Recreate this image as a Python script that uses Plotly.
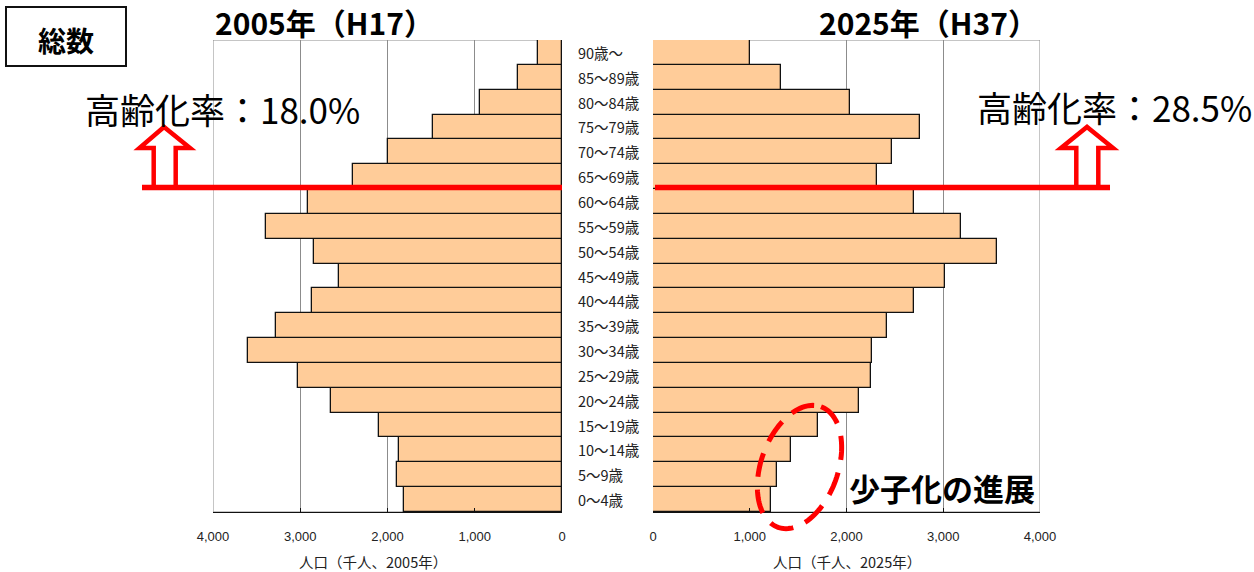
import numpy as np
import plotly.graph_objects as go

# ---------------- data ----------------
age_groups = ["0〜4歳", "5〜9歳", "10〜14歳", "15〜19歳", "20〜24歳", "25〜29歳",
              "30〜34歳", "35〜39歳", "40〜44歳", "45〜49歳", "50〜54歳", "55〜59歳",
              "60〜64歳", "65〜69歳", "70〜74歳", "75〜79歳", "80〜84歳", "85〜89歳", "90歳〜"]
pop_2005 = [1814, 1890, 1871, 2096, 2651, 3025, 3600, 3277, 2865, 2557,
            2846, 3394, 2911, 2400, 1990, 1475, 945, 500, 280]
pop_2025 = [1217, 1283, 1431, 1710, 2127, 2255, 2262, 2417, 2699, 3020,
            3557, 3182, 2699, 2320, 2475, 2755, 2040, 1320, 1000]
tick_vals = [0, 1000, 2000, 3000, 4000]
tick_text = ["0", "1,000", "2,000", "3,000", "4,000"]
title_2005 = "2005年（H17）"
title_2025 = "2025年（H37）"
axis_title_2005 = "人口（千人、2005年）"
axis_title_2025 = "人口（千人、2025年）"
aging_2005 = "高齢化率：18.0%"
aging_2025 = "高齢化率：28.5%"
box_label = "総数"
note_label = "少子化の進展"

# ---------------- layout helpers ----------------
W, H = 1254, 572
def X(px):
    return px / W
def Y(py):
    return 1 - py / H

CJK = "Noto Sans CJK JP"
BAR_FILL = "#FFCC99"
GRID = "#8c8c8c"
RED = "#FF0000"

yidx = list(range(len(age_groups)))

fig = go.Figure()
fig.add_trace(go.Bar(y=yidx, x=pop_2005, orientation="h", width=1,
                     marker=dict(color=BAR_FILL, line=dict(color="#111111", width=1.3)),
                     xaxis="x", yaxis="y", showlegend=False, hoverinfo="x"))
fig.add_trace(go.Bar(y=yidx, x=pop_2025, orientation="h", width=1,
                     marker=dict(color=BAR_FILL, line=dict(color="#111111", width=1.3)),
                     xaxis="x2", yaxis="y2", showlegend=False, hoverinfo="x"))

xcommon = dict(tickvals=tick_vals, ticktext=tick_text, showgrid=True, gridcolor=GRID,
               gridwidth=1, zeroline=False, showline=True, linecolor="#111111", linewidth=1.3,
               ticks="inside", ticklen=4, tickcolor="#111111", ticklabelstandoff=12,
               tickfont=dict(family="Liberation Sans, Arial", size=13, color="#222222"),
               fixedrange=True, automargin=False)
ycommon = dict(range=[-0.5, len(age_groups) - 0.5], showgrid=False, zeroline=False,
               showticklabels=False, showline=False, ticks="", fixedrange=True,
               domain=[Y(512), Y(40)], automargin=False)

fig.update_layout(
    width=W, height=H, margin=dict(l=0, r=0, t=0, b=0, pad=0, autoexpand=False),
    paper_bgcolor="white", plot_bgcolor="white", bargap=0, showlegend=False,
    xaxis=dict(domain=[X(213), X(562)], range=[4000, 0], anchor="y", **xcommon),
    xaxis2=dict(domain=[X(653), X(1040)], range=[0, 4000], anchor="y2", **xcommon),
    yaxis=dict(anchor="x", **ycommon),
    yaxis2=dict(anchor="x2", **ycommon),
)

shapes = []
# gray frames of the two plot areas
shapes.append(dict(type="rect", xref="x", yref="y", x0=4000, x1=0, y0=-0.5, y1=len(age_groups) - 0.5,
                   line=dict(color=GRID, width=1), layer="below"))
shapes.append(dict(type="rect", xref="x2", yref="y2", x0=0, x1=4000, y0=-0.5, y1=len(age_groups) - 0.5,
                   line=dict(color=GRID, width=1), layer="below"))
# box around 総数
shapes.append(dict(type="rect", xref="paper", yref="paper", x0=X(6), x1=X(126), y0=Y(66), y1=Y(7),
                   line=dict(color="#111111", width=2)))
# red horizontal lines
line_y = 187.5
shapes.append(dict(type="line", xref="paper", yref="paper", x0=X(142), x1=X(562), y0=Y(line_y), y1=Y(line_y),
                   line=dict(color=RED, width=5.5)))
shapes.append(dict(type="line", xref="paper", yref="paper", x0=X(655), x1=X(1110), y0=Y(line_y), y1=Y(line_y),
                   line=dict(color=RED, width=5.5)))

def arrow_path(cx, sl, sr, hl, hr, tip_y, head_y, base_y):
    pts = [(sl, base_y), (sl, head_y), (hl, head_y), (cx, tip_y), (hr, head_y), (sr, head_y), (sr, base_y)]
    return "M " + " L ".join(f"{X(a):.5f},{Y(b):.5f}" for a, b in pts)

shapes.append(dict(type="path", xref="paper", yref="paper",
                   path=arrow_path(164, 153.7, 175.7, 139.5, 190, 127, 148, 185),
                   line=dict(color=RED, width=4.5), fillcolor="rgba(0,0,0,0)"))
shapes.append(dict(type="path", xref="paper", yref="paper",
                   path=arrow_path(1087, 1076.3, 1098.3, 1061, 1113, 127, 148, 185),
                   line=dict(color=RED, width=4.5), fillcolor="rgba(0,0,0,0)"))

# dashed tilted ellipse
cx, cy, a, b, th = 799.5, 467, 64, 38.5, np.deg2rad(19.6)
t = np.linspace(0, 2 * np.pi, 121)
ux, uy = np.sin(th), -np.cos(th)
vx, vy = np.cos(th), np.sin(th)
ex = cx + a * np.cos(t) * ux + b * np.sin(t) * vx
ey = cy + a * np.cos(t) * uy + b * np.sin(t) * vy
epath = "M " + " L ".join(f"{X(p):.5f},{Y(q):.5f}" for p, q in zip(ex, ey)) + " Z"
shapes.append(dict(type="path", xref="paper", yref="paper", path=epath,
                   line=dict(color=RED, width=5, dash="24px,13px"), fillcolor="rgba(0,0,0,0)"))

fig.update_layout(shapes=shapes)

ann = []
for i, lab in enumerate(age_groups):
    ann.append(dict(text=lab, xref="paper", yref="y", x=X(576), y=i, xanchor="left", yanchor="middle",
                    showarrow=False, font=dict(family=CJK, size=14.5, color="#222222")))
ann.append(dict(text=f"<b>{title_2005}</b>", xref="paper", yref="paper", x=X(324), y=Y(22),
                xanchor="center", yanchor="middle", showarrow=False,
                font=dict(family=CJK, size=30, color="#000000")))
ann.append(dict(text=f"<b>{title_2025}</b>", xref="paper", yref="paper", x=X(928), y=Y(22),
                xanchor="center", yanchor="middle", showarrow=False,
                font=dict(family=CJK, size=30, color="#000000")))
ann.append(dict(text=f"<b>{box_label}</b>", xref="paper", yref="paper", x=X(66), y=Y(40),
                xanchor="center", yanchor="middle", showarrow=False,
                font=dict(family=CJK, size=28, color="#000000")))
ann.append(dict(text=aging_2005, xref="paper", yref="paper", x=X(83), y=Y(109),
                xanchor="left", yanchor="middle", showarrow=False,
                font=dict(family=CJK, size=35, color="#000000")))
ann.append(dict(text=aging_2025, xref="paper", yref="paper", x=X(975), y=Y(106),
                xanchor="left", yanchor="middle", showarrow=False,
                font=dict(family=CJK, size=35, color="#000000")))
ann.append(dict(text=f"<b>{note_label}</b>", xref="paper", yref="paper", x=X(847), y=Y(487),
                xanchor="left", yanchor="middle", showarrow=False,
                font=dict(family=CJK, size=31, color="#000000")))
ann.append(dict(text=axis_title_2005, xref="paper", yref="paper", x=X(373), y=Y(561),
                xanchor="center", yanchor="middle", showarrow=False,
                font=dict(family=CJK, size=14.5, color="#222222")))
ann.append(dict(text=axis_title_2025, xref="paper", yref="paper", x=X(847), y=Y(561),
                xanchor="center", yanchor="middle", showarrow=False,
                font=dict(family=CJK, size=14.5, color="#222222")))
fig.update_layout(annotations=ann)

fig.write_html("out.html")
